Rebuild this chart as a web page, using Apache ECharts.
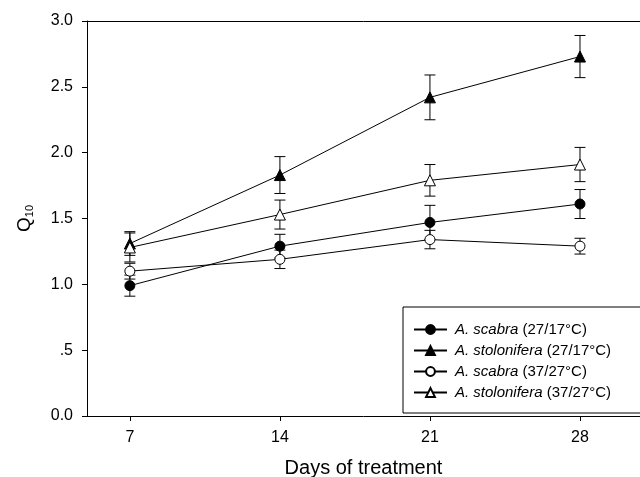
<!DOCTYPE html>
<html>
<head>
<meta charset="utf-8">
<script src="https://cdn.jsdelivr.net/npm/echarts@6/dist/echarts.min.js"></script>
<style>
html, body { margin: 0; padding: 0; background: #fff; }
#chartmain { width: 640px; height: 477px; }
</style>
</head>
<body>
<div id="chartmain"></div>
<script>
var days = [7, 14, 21, 28];
var yTicks = [0, 0.5, 1, 1.5, 2, 2.5, 3];

var scabra27 = [0.99, 1.29, 1.47, 1.61];
var scabra27Err = [0.08, 0.09, 0.13, 0.11];
var stolon27 = [1.31, 1.83, 2.42, 2.73];
var stolon27Err = [0.09, 0.14, 0.17, 0.16];
var scabra37 = [1.10, 1.19, 1.34, 1.29];
var scabra37Err = [0.06, 0.07, 0.07, 0.06];
var stolon37 = [1.28, 1.53, 1.79, 1.91];
var stolon37Err = [0.11, 0.11, 0.12, 0.13];

var names = [
	'{i|A. scabra} (27/17°C)',
	'{i|A. stolonifera} (27/17°C)',
	'{i|A. scabra} (37/27°C)',
	'{i|A. stolonifera} (37/27°C)'
];

var font = 'Liberation Sans, Arial, sans-serif';

function pairs(vals) {
	var out = [];
	for (var i = 0; i < days.length; i++) {
		out.push([days[i], vals[i]]);
	}
	return out;
}

function bars(vals, errs) {
	var out = [];
	for (var i = 0; i < days.length; i++) {
		out.push([days[i], vals[i] - errs[i], vals[i] + errs[i]]);
	}
	return out;
}

function errorSeries(vals, errs) {
	return {
		type: 'custom',
		data: bars(vals, errs),
		silent: true,
		z: 1,
		encode: { x: 0, y: [1, 2] },
		renderItem: function(params, api) {
			var lo = api.coord([api.value(0), api.value(1)]);
			var hi = api.coord([api.value(0), api.value(2)]);
			var w = 5.5;
			var st = { stroke: '#000', lineWidth: 1 };
			return {
				type: 'group',
				children: [
					{ type: 'line', shape: { x1: lo[0], y1: lo[1], x2: hi[0], y2: hi[1] }, style: st },
					{ type: 'line', shape: { x1: lo[0] - w, y1: lo[1], x2: lo[0] + w, y2: lo[1] }, style: st },
					{ type: 'line', shape: { x1: hi[0] - w, y1: hi[1], x2: hi[0] + w, y2: hi[1] }, style: st }
				]
			};
		}
	};
}

function lineSeries(name, vals, symbol, filled) {
	return {
		name: name,
		type: 'line',
		data: pairs(vals),
		symbol: symbol,
		symbolSize: symbol == 'triangle' ? 11 : 10,
		showSymbol: true,
		z: 3,
		lineStyle: { color: '#000', width: 1 },
		itemStyle: { color: filled ? '#000' : '#fff', borderColor: '#000', borderWidth: 1 }
	};
}

var option = {
	backgroundColor: '#fff',
	animation: false,
	textStyle: { fontFamily: font },
	grid: { left: 87, right: 0, top: 21, bottom: 61, containLabel: false, outerBoundsMode: 'none' },
	legend: {
		orient: 'vertical',
		left: 403,
		top: 307,
		padding: [15, 60, 13, 10],
		itemGap: 6,
		itemWidth: 33,
		itemHeight: 11,
		backgroundColor: '#fff',
		borderColor: '#000',
		borderWidth: 1,
		borderRadius: 0,
		data: names,
		textStyle: {
			fontFamily: font,
			fontSize: 15,
			color: '#000',
			padding: [0, 0, 0, 3],
			rich: {
				i: { fontFamily: font, fontSize: 15, fontStyle: 'italic', color: '#000' }
			}
		}
	},
	xAxis: [{
		type: 'value',
		min: 5,
		max: 30.8,
		position: 'bottom',
		name: 'Days of treatment',
		nameLocation: 'middle',
		nameGap: 42,
		nameTextStyle: { fontFamily: font, fontSize: 20, color: '#000' },
		axisLine: { show: true, onZero: false, lineStyle: { color: '#000', width: 1 } },
		axisTick: { show: true, inside: false, length: 5, customValues: days, lineStyle: { color: '#000' } },
		axisLabel: { show: true, customValues: days, margin: 14, fontSize: 16, color: '#000', fontFamily: font },
		splitLine: { show: false }
	}, {
		type: 'value',
		min: 5,
		max: 30.8,
		position: 'top',
		axisLine: { show: true, onZero: false, lineStyle: { color: '#000', width: 1 } },
		axisTick: { show: false },
		axisLabel: { show: false },
		splitLine: { show: false }
	}],
	yAxis: {
		type: 'value',
		min: 0,
		max: 3,
		interval: 0.5,
		name: '{q|Q}{s|10}',
		nameLocation: 'middle',
		nameGap: 52,
		nameRotate: 90,
		nameTextStyle: {
			rich: {
				q: { fontFamily: font, fontSize: 19, color: '#000' },
				s: { fontFamily: font, fontSize: 11, color: '#000', padding: [10, 0, 0, 0] }
			}
		},
		axisLine: { show: true, lineStyle: { color: '#000', width: 1 } },
		axisTick: { show: true, inside: false, length: 5, lineStyle: { color: '#000' } },
		axisLabel: {
			fontSize: 16,
			color: '#000',
			fontFamily: font,
			margin: 14,
			formatter: function(v) {
				if (v == 0.5) return '.5';
				return v.toFixed(1);
			}
		},
		splitLine: { show: false }
	},
	series: [
		errorSeries(scabra27, scabra27Err),
		errorSeries(stolon27, stolon27Err),
		errorSeries(scabra37, scabra37Err),
		errorSeries(stolon37, stolon37Err),
		lineSeries(names[0], scabra27, 'circle', true),
		lineSeries(names[1], stolon27, 'triangle', true),
		lineSeries(names[2], scabra37, 'circle', false),
		lineSeries(names[3], stolon37, 'triangle', false)
	]
};

var myChart = echarts.init(document.getElementById('chartmain'));
myChart.setOption(option);
</script>
</body>
</html>
